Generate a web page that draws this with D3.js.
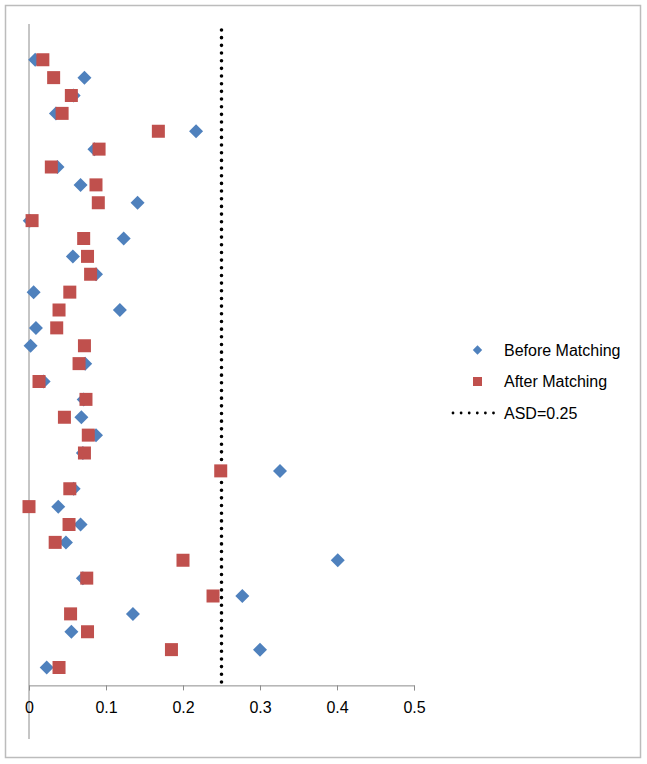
<!DOCTYPE html>
<html><head><meta charset="utf-8">
<script src="https://cdn.jsdelivr.net/npm/d3@7"></script>
<style>body{margin:0;background:#fff;} svg{display:block;}</style>
</head><body>
<script>
const rows = d3.range(35);
const beforeMatching = [0.008,0.072,0.058,0.035,0.217,0.085,0.037,0.067,0.141,0.001,
  0.123,0.057,0.087,0.006,0.118,0.009,0.002,0.073,0.019,0.071,
  0.068,0.087,0.070,0.326,0.058,0.038,0.067,0.048,0.401,0.070,
  0.277,0.135,0.055,0.300,0.023];
const afterMatching = [0.018,0.032,0.055,0.043,0.168,0.091,0.029,0.087,0.090,0.004,
  0.071,0.076,0.080,0.053,0.039,0.036,0.072,0.065,0.013,0.074,
  0.046,0.077,0.072,0.249,0.053,0.000,0.052,0.034,0.200,0.075,
  0.239,0.054,0.076,0.185,0.039];
const xTicks = [0,0.1,0.2,0.3,0.4,0.5];
const threshold = 0.25;
const legendLabels = ["Before Matching","After Matching","ASD=0.25"];
const colors = {before:"#4F81BD", after:"#C0504D"};

const W=647,H=764;
const svg=d3.select("body").append("svg").attr("width",W).attr("height",H);
svg.append("rect").attr("x",5.5).attr("y",5.5).attr("width",635).attr("height",752)
  .attr("fill","#fff").attr("stroke","#bcbcbc").attr("stroke-width",1.5);

const x=d3.scaleLinear().domain([0,0.5]).range([29,414]);
const y=d3.scaleLinear().domain([-2,38]).range([24,739]);
const font="'Liberation Sans', Arial, sans-serif";
const diamondPath=r=>`M0,${-r}L${r},0L0,${r}L${-r},0Z`;

// y axis line
svg.append("line").attr("x1",x(0)).attr("x2",x(0)).attr("y1",y(-2)).attr("y2",y(38))
  .attr("stroke","#8c8c8c").attr("stroke-width",1);
// x axis
const xa=svg.append("g").attr("transform",`translate(0,${y(35)})`)
  .call(d3.axisBottom(x).tickValues(xTicks).tickFormat(d=>d===0?"0":d3.format(".1f")(d)).tickSizeOuter(0).tickSize(5).tickPadding(11));
xa.select(".domain").attr("stroke","#8c8c8c");
xa.selectAll(".tick line").attr("stroke","#8c8c8c");
xa.selectAll("text").attr("font-family",font).attr("font-size",16).attr("fill","#000");

// threshold dotted line
svg.append("line").attr("x1",x(threshold)).attr("x2",x(threshold)).attr("y1",y(-2)+6).attr("y2",y(35))
  .attr("stroke","#000").attr("stroke-width",3.6).attr("stroke-linecap","round")
  .attr("stroke-dasharray","0,7.67");

svg.append("g").selectAll("path").data(rows).join("path")
  .attr("d",diamondPath(7))
  .attr("transform",i=>`translate(${x(beforeMatching[i])},${y(i)})`)
  .attr("fill",colors.before);
svg.append("g").selectAll("rect").data(rows).join("rect")
  .attr("x",i=>x(afterMatching[i])-6.5).attr("y",i=>y(i)-6.5)
  .attr("width",13).attr("height",13).attr("fill",colors.after);

// legend
const lg=svg.append("g");
const ly=[350,381.5,413];
lg.append("path").attr("d",diamondPath(4.7))
  .attr("transform",`translate(477.5,${ly[0]})`).attr("fill",colors.before);
lg.append("rect").attr("x",473).attr("y",ly[1]-4.5).attr("width",9).attr("height",9).attr("fill",colors.after);
lg.append("line").attr("x1",453).attr("x2",494).attr("y1",ly[2]).attr("y2",ly[2])
  .attr("stroke","#000").attr("stroke-width",2.8).attr("stroke-linecap","round").attr("stroke-dasharray","0,8.1");
lg.selectAll("text").data(legendLabels).join("text")
  .attr("x",504).attr("y",(d,i)=>ly[i]).attr("dy","0.36em")
  .attr("font-family",font).attr("font-size",16).attr("fill","#000").text(d=>d);
</script>
</body></html>
